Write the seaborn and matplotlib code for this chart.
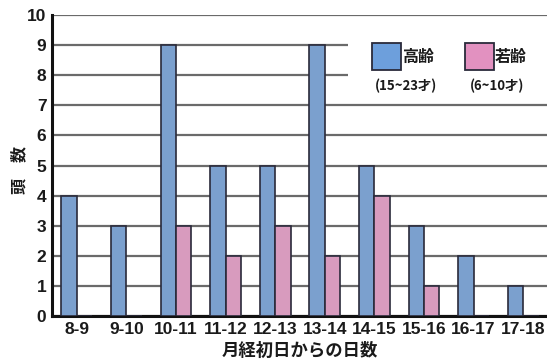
import matplotlib
matplotlib.use("Agg")
import matplotlib.pyplot as plt
import seaborn as sns
import pandas as pd
from matplotlib.patches import Rectangle

categories = ['8-9', '9-10', '10-11', '11-12', '12-13', '13-14', '14-15', '15-16', '16-17', '17-18']
old_counts = [4, 3, 9, 5, 5, 9, 5, 3, 2, 1]
young_counts = [0, 0, 3, 2, 3, 2, 4, 1, 0, 0]
series_names = ['高齢', '若齢']
series_ranges = ['(15~23才)', '(6~10才)']
colors = ['#6d9fdc', '#e291c0']

df = pd.DataFrame({
    'cat': categories * 2,
    'val': old_counts + young_counts,
    'grp': [series_names[0]] * len(categories) + [series_names[1]] * len(categories),
})

sns.set_theme(style='white')
plt.rcParams['font.family'] = ['Noto Sans CJK JP', 'DejaVu Sans']

fig = plt.figure(figsize=(5.47, 3.63), dpi=100)
W, H = 547, 363
ax = fig.add_axes([52 / W, 1 - 316 / H, 496 / W, 301 / H])

sns.barplot(data=df, x='cat', y='val', hue='grp', order=categories,
            hue_order=series_names, palette=colors, width=0.62,
            edgecolor='#2a2a3a', linewidth=1.2, ax=ax, legend=False, zorder=3)

ax.set_ylim(0, 10)
ax.set_xlim(-0.5, 9.5)
ax.set_yticks(range(0, 11))
ax.yaxis.grid(True, color='#6a6a6a', linewidth=1.6, zorder=0)
ax.xaxis.grid(False)
ax.set_axisbelow(True)
for s in ['top', 'right']:
    ax.spines[s].set_visible(False)
for s in ['left', 'bottom']:
    ax.spines[s].set_color('#111111')
    ax.spines[s].set_linewidth(2.2)
ax.tick_params(axis='both', length=0, pad=4)
for lab in ax.get_yticklabels() + ax.get_xticklabels():
    lab.set_fontfamily('Liberation Sans')
    lab.set_fontweight('bold')
    lab.set_fontsize(12.5)
    lab.set_color('#1a1a1a')

ax.set_xlabel('月経初日からの日数', fontsize=12.5, fontweight='bold', labelpad=4, color='#1a1a1a')
ax.set_ylabel('頭\u3000数', fontsize=11.5, fontweight='bold', color='#1a1a1a')
ax.yaxis.set_label_coords(-(52 - 27) / 496, (316 - 170) / 301)

# legend panel
ax.add_patch(Rectangle((0.597, 0.731), 0.41, 0.215, transform=ax.transAxes,
                       facecolor='white', edgecolor='none', zorder=4, clip_on=False))
box_x = [0.645, 0.833]
text_x = [0.706, 0.893]
range_x = [0.714, 0.897]
for i in range(2):
    ax.add_patch(Rectangle((box_x[i], 0.817), 0.058, 0.09, transform=ax.transAxes,
                           facecolor=colors[i], edgecolor='#2a2a3a', linewidth=1.3,
                           zorder=5, clip_on=False))
    ax.text(text_x[i], 0.862, series_names[i], transform=ax.transAxes, fontsize=11.5,
            fontweight='bold', va='center', ha='left', zorder=6, color='#1a1a1a')
    ax.text(range_x[i], 0.765, series_ranges[i],
            transform=ax.transAxes, fontsize=9.5, fontweight='bold', va='center',
            ha='center', zorder=6, color='#1a1a1a')

fig.savefig('out.png', dpi=100)
